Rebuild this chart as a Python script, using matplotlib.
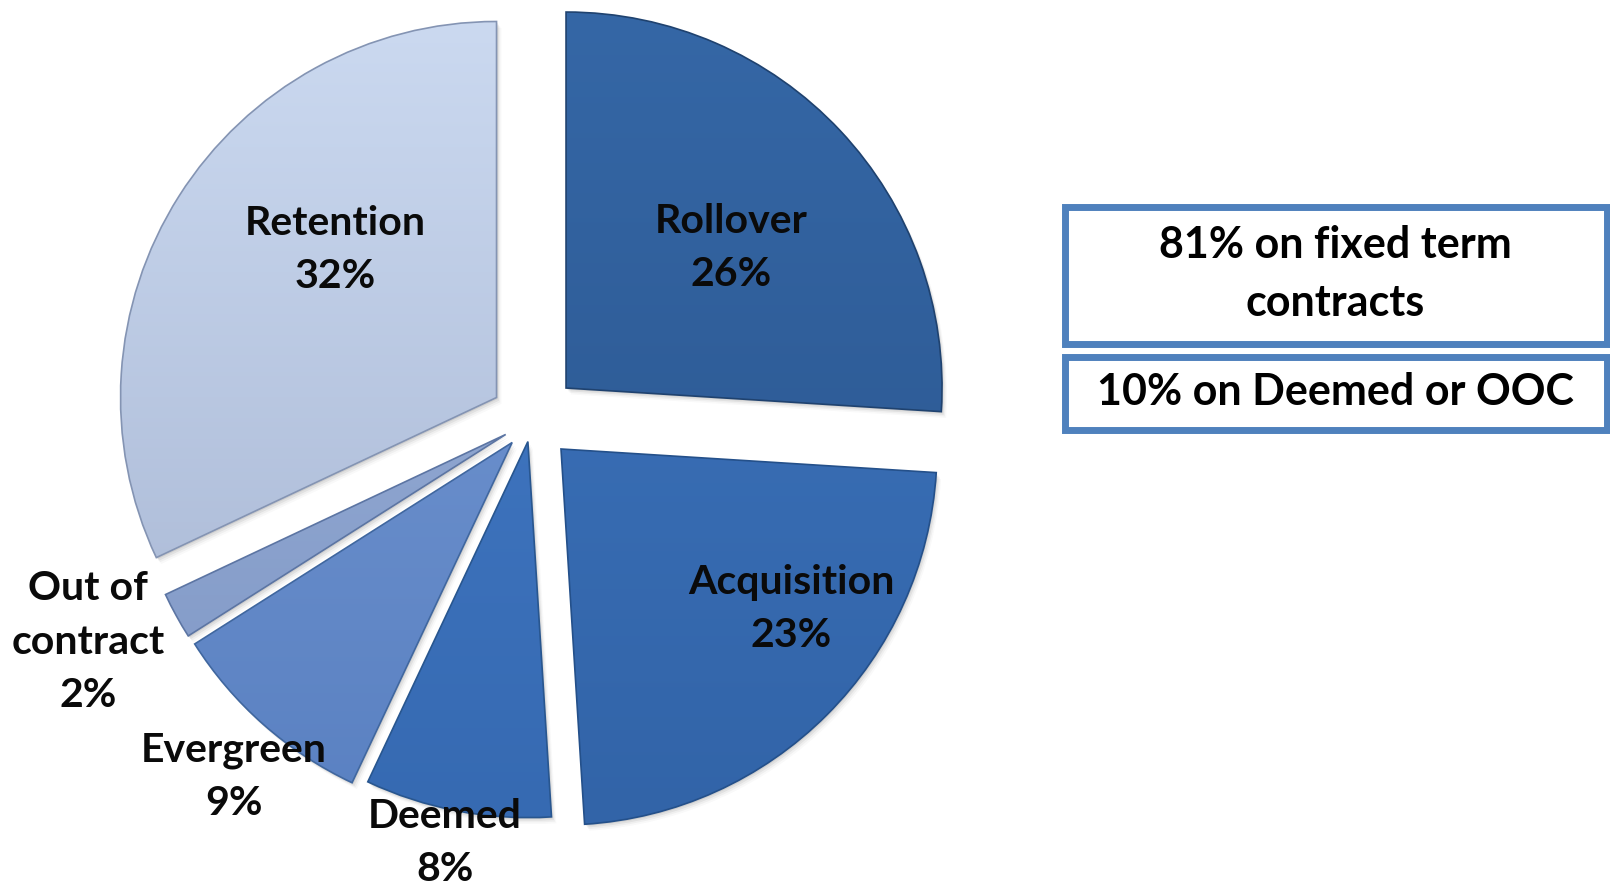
import matplotlib
matplotlib.use("Agg")
import matplotlib.pyplot as plt
import numpy as np
from matplotlib.colors import to_rgb
from matplotlib.patches import Rectangle, Wedge

# Contract type split
categories = ["Rollover", "Acquisition", "Deemed", "Evergreen", "Out of\ncontract", "Retention"]
shares = [26, 23, 8, 9, 2, 32]
notes = ["81% on fixed term\ncontracts", "10% on Deemed or OOC"]

# Styling (explode offsets are in data units, i.e. pixels here)
explode = [46.7, 41.0, 22.0, 30.0, 30.0, 42.0]
shades = [("#3567A6", "#2A558D"),
          ("#3D74BD", "#3264A8"),
          ("#447BC7", "#366AB2"),
          ("#7699D3", "#5A81C2"),
          ("#9DB3DA", "#7F97C5"),
          ("#CBD9F0", "#A6B5D2")]
edge_cols = ["#1F426F", "#24508A", "#28568F", "#40679F", "#5C75A3", "#8494B3"]
label_xy = [(731, 641), (791, 280), (445, 46), (234, 112), (88, 247), (335, 639)]
FONT = "Lato"

W, H = 1610, 889
fig = plt.figure(figsize=(W / 100, H / 100), dpi=100)
ax = fig.add_axes([0, 0, 1, 1])

wedges, _ = ax.pie(shares, explode=explode, startangle=90, counterclock=False,
                   center=(532, 469), radius=376, frame=True,
                   wedgeprops=dict(linewidth=1.2))

for w, (top, bot), ec in zip(wedges, shades, edge_cols):
    cx, cy = w.center
    r = w.r
    # soft drop shadow below/right of each slice
    for k, a in zip(range(1, 5), [0.10, 0.08, 0.05, 0.03]):
        sh = Wedge((cx + 1.2 * k, cy - 1.6 * k), r, w.theta1, w.theta2,
                   facecolor="#404040", edgecolor="none", alpha=a, zorder=0.5)
        ax.add_patch(sh)
    t = np.linspace(0, 1, 256)[:, None]
    grad = (1 - t) * np.array(to_rgb(top)) + t * np.array(to_rgb(bot))
    grad = grad[:, None, :]
    im = ax.imshow(grad, extent=[cx - r, cx + r, cy - r, cy + r], origin="upper",
                   aspect="auto", zorder=1, interpolation="bilinear")
    im.set_clip_path(w)
    w.set_facecolor("none")
    w.set_edgecolor(ec)
    w.set_zorder(2)

for name, val, (x, y) in zip(categories, shares, label_xy):
    ax.text(x, y, f"{name}\n{val}%", ha="center", va="center", fontsize=29.5,
            fontweight="bold", family=FONT, color="#0A0A0A", linespacing=1.55, zorder=5)

# Summary boxes on the right
box_specs = [(206.5, 343.5), (356.5, 429.5)]
for note, (ytop, ybot) in zip(notes, box_specs):
    rect = Rectangle((1064.5, H - ybot), 1606.5 - 1064.5, ybot - ytop,
                     facecolor="white", edgecolor="#4F81BD", linewidth=5.0,
                     joinstyle="miter", zorder=3)
    ax.add_patch(rect)
    ax.text((1064.5 + 1606.5) / 2, H - (ytop + ybot) / 2 + 1, note, ha="center", va="center",
            fontsize=31, fontweight="bold", family=FONT, color="black",
            linespacing=1.52, zorder=4)

ax.set_xlim(0, W)
ax.set_ylim(0, H)
ax.set_aspect("auto")
ax.axis("off")
fig.savefig("out.png", dpi=100)
